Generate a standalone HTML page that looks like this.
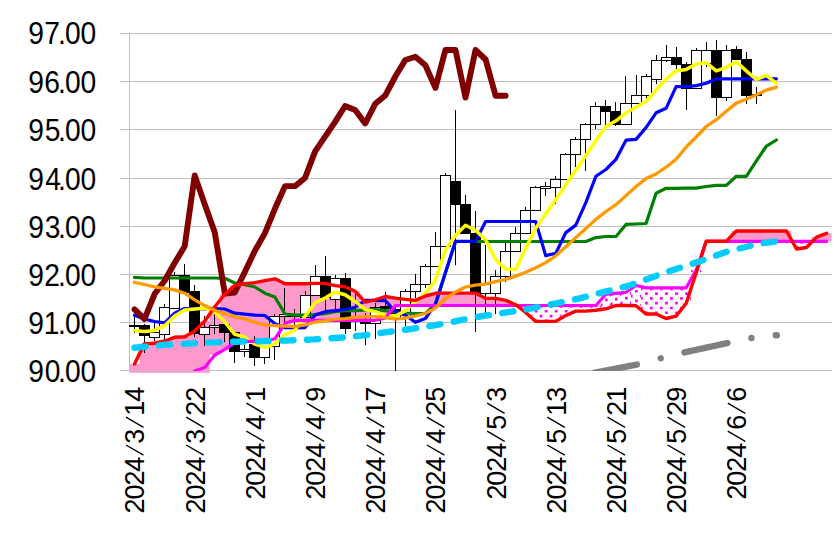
<!DOCTYPE html><html><head><meta charset="utf-8"><title>chart</title><style>html,body{margin:0;padding:0;background:#fff}svg{display:block}text{font-family:"Liberation Sans",sans-serif;fill:#000}</style></head><body>
<svg width="837" height="542" viewBox="0 0 837 542">
<defs><clipPath id="cp"><rect x="129.0" y="27.5" width="703.5" height="345.3"/></clipPath>
<clipPath id="cp2"><rect x="129.0" y="27.5" width="703.5" height="343.6"/></clipPath>
</defs>
<rect width="837" height="542" fill="#fff"/>
<line x1="120.0" y1="33.50" x2="832.0" y2="33.50" stroke="#c0c0c0" stroke-width="1"/>
<line x1="120.0" y1="81.50" x2="832.0" y2="81.50" stroke="#c0c0c0" stroke-width="1"/>
<line x1="120.0" y1="129.50" x2="832.0" y2="129.50" stroke="#c0c0c0" stroke-width="1"/>
<line x1="120.0" y1="178.50" x2="832.0" y2="178.50" stroke="#c0c0c0" stroke-width="1"/>
<line x1="120.0" y1="226.50" x2="832.0" y2="226.50" stroke="#c0c0c0" stroke-width="1"/>
<line x1="120.0" y1="274.50" x2="832.0" y2="274.50" stroke="#c0c0c0" stroke-width="1"/>
<line x1="120.0" y1="322.50" x2="832.0" y2="322.50" stroke="#c0c0c0" stroke-width="1"/>
<line x1="120.0" y1="370.50" x2="832.0" y2="370.50" stroke="#c0c0c0" stroke-width="1"/>
<line x1="129.5" y1="33.5" x2="129.5" y2="370.5" stroke="#c0c0c0" stroke-width="1"/>
<g clip-path="url(#cp)">
<polygon points="129.50,363.9 139.53,363.9 139.53,343.6 149.56,343.6 149.56,343.2 159.59,343.2 159.59,341.0 169.62,341.0 169.62,337.3 179.65,337.3 179.65,336.8 189.68,336.8 189.68,331.0 199.71,331.0 199.71,321.3 209.74,321.3 209.74,306.8 219.77,306.8 219.77,294.2 229.80,294.2 229.80,285.5 239.83,285.5 239.83,283.6 249.86,283.6 249.86,282.6 259.89,282.6 259.89,280.7 269.92,280.7 269.92,278.8 279.95,278.8 279.95,283.8 289.98,283.8 289.98,283.8 300.01,283.8 300.01,283.8 310.04,283.8 310.04,283.4 320.07,283.4 320.07,283.4 330.10,283.4 330.10,285.6 340.13,285.6 340.13,286.8 350.16,286.8 350.16,291.3 360.19,291.3 360.19,302.2 370.22,302.2 370.22,299.9 380.25,299.9 380.25,296.5 390.28,296.5 390.28,298.1 400.31,298.1 400.31,299.4 410.34,299.4 410.34,300.4 420.37,300.4 420.37,296.0 430.40,296.0 430.40,293.3 440.43,293.3 440.43,293.1 450.46,293.1 450.46,293.1 460.49,293.1 460.49,293.1 470.52,293.1 470.52,293.1 480.55,293.1 480.55,298.4 490.58,298.4 490.58,298.4 500.61,298.4 500.61,300.3 510.64,300.3 510.64,304.7 520.67,304.7 520.67,305.5 510.64,305.5 510.64,305.5 500.61,305.5 500.61,305.5 490.58,305.5 490.58,305.5 480.55,305.5 480.55,305.5 470.52,305.5 470.52,305.5 460.49,305.5 460.49,305.5 450.46,305.5 450.46,305.5 440.43,305.5 440.43,305.5 430.40,305.5 430.40,305.5 420.37,305.5 420.37,305.5 410.34,305.5 410.34,305.5 400.31,305.5 400.31,305.6 390.28,305.6 390.28,318.0 380.25,318.0 380.25,320.3 370.22,320.3 370.22,320.3 360.19,320.3 360.19,320.3 350.16,320.3 350.16,320.3 340.13,320.3 340.13,320.3 330.10,320.3 330.10,320.3 320.07,320.3 320.07,320.3 310.04,320.3 310.04,320.3 300.01,320.3 300.01,320.3 289.98,320.3 289.98,323.4 279.95,323.4 279.95,338.8 269.92,338.8 269.92,341.0 259.89,341.0 259.89,341.3 249.86,341.3 249.86,341.3 239.83,341.3 239.83,342.8 229.80,342.8 229.80,349.4 219.77,349.4 219.77,355.0 209.74,355.0 209.74,400.0 199.71,400.0 199.71,400.0 189.68,400.0 189.68,400.0 179.65,400.0 179.65,400.0 169.62,400.0 169.62,400.0 159.59,400.0 159.59,400.0 149.56,400.0 149.56,400.0 139.53,400.0 139.53,400.0 129.50,400.0" fill="#ff99cc"/>
<polygon points="731.30,231.0 741.33,231.0 741.33,231.0 751.36,231.0 751.36,231.0 761.39,231.0 761.39,231.0 771.42,231.0 771.42,231.0 781.45,231.0 781.45,231.0 791.48,231.0 791.48,241.3 781.45,241.3 781.45,241.3 771.42,241.3 771.42,241.3 761.39,241.3 761.39,241.3 751.36,241.3 751.36,241.3 741.33,241.3 741.33,241.3 731.30,241.3" fill="#ff99cc"/>
<polygon points="811.54,237.1 821.57,237.1 821.57,233.3 831.60,233.3 831.60,241.3 821.57,241.3 821.57,241.3 811.54,241.3" fill="#ff99cc"/>
<path d="M520.67,305.50h1.65v2.35h-1.65zM529.65,305.50h1.05v2.35h-1.05zM524.72,309.90h2.70v2.50h-2.70zM530.70,305.50h1.65v2.35h-1.65zM539.68,305.50h1.05v2.35h-1.05zM534.75,309.90h2.70v2.70h-2.70zM530.70,314.75h1.65v2.70h-1.65zM539.68,314.75h1.05v2.70h-1.05zM534.75,319.50h2.70v1.90h-2.70zM540.73,305.50h1.65v2.35h-1.65zM549.71,305.50h1.05v2.35h-1.05zM544.78,309.90h2.70v2.70h-2.70zM540.73,314.75h1.65v2.70h-1.65zM549.71,314.75h1.05v2.70h-1.05zM544.78,319.50h2.70v1.90h-2.70zM550.76,305.50h1.65v2.35h-1.65zM559.74,305.50h1.05v2.35h-1.05zM554.81,309.90h2.70v2.70h-2.70zM550.76,314.75h1.65v2.70h-1.65zM559.74,314.75h1.05v2.70h-1.05zM554.81,319.50h2.70v1.90h-2.70zM560.79,305.50h1.65v2.35h-1.65zM569.77,305.50h1.05v2.35h-1.05zM564.84,309.90h2.70v2.70h-2.70zM560.79,314.75h1.65v0.75h-1.65zM569.77,314.75h1.05v0.75h-1.05zM570.82,305.50h1.65v2.35h-1.65zM579.80,305.50h1.05v2.35h-1.05zM574.87,309.90h2.70v1.20h-2.70zM580.85,305.50h1.65v2.35h-1.65zM589.83,305.50h1.05v2.35h-1.05zM584.90,309.90h2.70v1.20h-2.70zM590.88,305.50h1.65v2.35h-1.65zM599.86,305.50h1.05v2.35h-1.05zM594.93,309.90h2.70v0.40h-2.70zM600.91,294.20h1.65v2.35h-1.65zM609.89,294.20h1.05v2.35h-1.05zM604.96,298.60h2.70v2.70h-2.70zM600.91,303.45h1.65v2.70h-1.65zM609.89,303.45h1.05v2.70h-1.05zM604.96,308.20h2.70v0.60h-2.70zM610.94,293.30h1.65v2.35h-1.65zM619.92,293.30h1.05v2.35h-1.05zM614.99,297.70h2.70v2.70h-2.70zM610.94,302.55h1.65v2.70h-1.65zM619.92,302.55h1.05v2.70h-1.05zM620.97,292.30h1.65v2.35h-1.65zM629.95,292.30h1.05v2.35h-1.05zM625.02,296.70h2.70v2.70h-2.70zM620.97,301.55h1.65v2.70h-1.65zM629.95,301.55h1.05v2.70h-1.05zM631.00,285.50h1.65v2.35h-1.65zM639.98,285.50h1.05v2.35h-1.05zM635.05,289.90h2.70v2.70h-2.70zM631.00,294.75h1.65v2.70h-1.65zM639.98,294.75h1.05v2.70h-1.05zM635.05,299.50h2.70v2.70h-2.70zM631.00,304.35h1.65v1.35h-1.65zM639.98,304.35h1.05v1.35h-1.05zM641.03,287.80h1.65v2.35h-1.65zM650.01,287.80h1.05v2.35h-1.05zM645.08,292.20h2.70v2.70h-2.70zM641.03,297.05h1.65v2.70h-1.65zM650.01,297.05h1.05v2.70h-1.05zM645.08,301.80h2.70v2.70h-2.70zM641.03,306.65h1.65v2.70h-1.65zM650.01,306.65h1.05v2.70h-1.05zM645.08,311.40h2.70v2.60h-2.70zM651.06,287.80h1.65v2.35h-1.65zM660.04,287.80h1.05v2.35h-1.05zM655.11,292.20h2.70v2.70h-2.70zM651.06,297.05h1.65v2.70h-1.65zM660.04,297.05h1.05v2.70h-1.05zM655.11,301.80h2.70v2.70h-2.70zM651.06,306.65h1.65v2.70h-1.65zM660.04,306.65h1.05v2.70h-1.05zM655.11,311.40h2.70v2.60h-2.70zM661.09,287.80h1.65v2.35h-1.65zM670.07,287.80h1.05v2.35h-1.05zM665.14,292.20h2.70v2.70h-2.70zM661.09,297.05h1.65v2.70h-1.65zM670.07,297.05h1.05v2.70h-1.05zM665.14,301.80h2.70v2.70h-2.70zM661.09,306.65h1.65v2.70h-1.65zM670.07,306.65h1.05v2.70h-1.05zM665.14,311.40h2.70v2.70h-2.70zM661.09,316.25h1.65v2.25h-1.65zM670.07,316.25h1.05v2.25h-1.05zM671.12,287.80h1.65v2.35h-1.65zM680.10,287.80h1.05v2.35h-1.05zM675.17,292.20h2.70v2.70h-2.70zM671.12,297.05h1.65v2.70h-1.65zM680.10,297.05h1.05v2.70h-1.05zM675.17,301.80h2.70v2.70h-2.70zM671.12,306.65h1.65v2.70h-1.65zM680.10,306.65h1.05v2.70h-1.05zM675.17,311.40h2.70v2.70h-2.70zM681.15,287.80h1.65v2.35h-1.65zM690.13,287.80h1.05v2.35h-1.05zM685.20,292.20h2.70v2.70h-2.70zM681.15,297.05h1.65v2.70h-1.65zM690.13,297.05h1.05v2.70h-1.05zM685.20,301.80h2.70v1.50h-2.70zM691.18,270.00h1.65v2.35h-1.65zM700.16,270.00h1.05v2.35h-1.05zM791.48,241.30h1.65v2.35h-1.65zM800.46,241.30h1.05v2.35h-1.05zM795.53,245.70h2.70v2.70h-2.70zM801.51,241.30h1.65v2.35h-1.65zM810.49,241.30h1.05v2.35h-1.05zM805.56,245.70h2.70v1.80h-2.70z" fill="#ff00ff"/>
</g>
<line x1="129.5" y1="370.50" x2="832.0" y2="370.50" stroke="#c0c0c0" stroke-width="1" opacity="0.8"/>
<g clip-path="url(#cp2)" stroke="#000" stroke-width="1">
<line x1="134.5" y1="315.0" x2="134.5" y2="333.0"/>
<rect x="129.5" y="325.5" width="10.0" height="1.0" fill="#fff"/>
<line x1="144.5" y1="324.0" x2="144.5" y2="353.0"/>
<rect x="139.5" y="325.5" width="10.0" height="10.0" fill="#000"/>
<line x1="154.5" y1="323.0" x2="154.5" y2="341.0"/>
<rect x="149.5" y="332.5" width="10.0" height="5.0" fill="#fff"/>
<line x1="164.5" y1="304.0" x2="164.5" y2="341.0"/>
<rect x="159.5" y="307.5" width="10.0" height="27.0" fill="#fff"/>
<line x1="174.5" y1="272.0" x2="174.5" y2="308.0"/>
<rect x="169.5" y="275.5" width="10.0" height="33.0" fill="#fff"/>
<line x1="184.5" y1="264.0" x2="184.5" y2="293.0"/>
<rect x="179.5" y="275.5" width="10.0" height="17.0" fill="#000"/>
<line x1="194.5" y1="285.0" x2="194.5" y2="337.0"/>
<rect x="189.5" y="291.5" width="10.0" height="42.0" fill="#000"/>
<line x1="204.5" y1="316.0" x2="204.5" y2="346.0"/>
<rect x="199.5" y="327.5" width="10.0" height="7.0" fill="#fff"/>
<line x1="214.5" y1="314.0" x2="214.5" y2="334.0"/>
<rect x="209.5" y="325.5" width="10.0" height="2.0" fill="#fff"/>
<line x1="224.5" y1="324.0" x2="224.5" y2="342.0"/>
<rect x="219.5" y="324.5" width="10.0" height="8.0" fill="#000"/>
<line x1="234.5" y1="333.0" x2="234.5" y2="363.0"/>
<rect x="229.5" y="332.5" width="10.0" height="19.0" fill="#000"/>
<line x1="244.5" y1="345.0" x2="244.5" y2="357.0"/>
<rect x="239.5" y="349.5" width="10.0" height="2.0" fill="#fff"/>
<line x1="254.5" y1="336.0" x2="254.5" y2="366.0"/>
<rect x="249.5" y="344.5" width="10.0" height="13.0" fill="#000"/>
<line x1="264.5" y1="347.0" x2="264.5" y2="364.0"/>
<rect x="259.5" y="347.5" width="10.0" height="10.0" fill="#fff"/>
<line x1="274.5" y1="314.0" x2="274.5" y2="360.0"/>
<rect x="269.5" y="316.5" width="10.0" height="30.0" fill="#fff"/>
<line x1="284.5" y1="288.0" x2="284.5" y2="327.0"/>
<rect x="279.5" y="314.5" width="10.0" height="2.0" fill="#fff"/>
<line x1="294.5" y1="309.0" x2="294.5" y2="325.0"/>
<rect x="289.5" y="314.5" width="11.0" height="2.0" fill="#fff"/>
<line x1="305.5" y1="291.0" x2="305.5" y2="318.0"/>
<rect x="300.5" y="295.5" width="10.0" height="22.0" fill="#fff"/>
<line x1="315.5" y1="265.0" x2="315.5" y2="296.0"/>
<rect x="310.5" y="276.5" width="10.0" height="19.0" fill="#fff"/>
<line x1="325.5" y1="256.0" x2="325.5" y2="310.0"/>
<rect x="320.5" y="276.5" width="10.0" height="21.0" fill="#000"/>
<line x1="335.5" y1="275.0" x2="335.5" y2="309.0"/>
<rect x="330.5" y="278.5" width="10.0" height="21.0" fill="#fff"/>
<line x1="345.5" y1="273.0" x2="345.5" y2="334.0"/>
<rect x="340.5" y="278.5" width="10.0" height="50.0" fill="#000"/>
<line x1="355.5" y1="292.0" x2="355.5" y2="331.0"/>
<rect x="350.5" y="320.5" width="10.0" height="1.0" fill="#fff"/>
<line x1="365.5" y1="313.0" x2="365.5" y2="345.0"/>
<rect x="360.5" y="321.5" width="10.0" height="2.0" fill="#000"/>
<line x1="375.5" y1="303.0" x2="375.5" y2="339.0"/>
<rect x="370.5" y="307.5" width="10.0" height="16.0" fill="#fff"/>
<line x1="385.5" y1="292.0" x2="385.5" y2="312.0"/>
<rect x="380.5" y="306.5" width="10.0" height="2.0" fill="#000"/>
<line x1="395.5" y1="306.0" x2="395.5" y2="373.0"/>
<rect x="390.5" y="309.5" width="10.0" height="4.0" fill="#000"/>
<line x1="405.5" y1="289.0" x2="405.5" y2="326.0"/>
<rect x="400.5" y="291.5" width="10.0" height="27.0" fill="#fff"/>
<line x1="415.5" y1="274.0" x2="415.5" y2="298.0"/>
<rect x="410.5" y="284.5" width="10.0" height="7.0" fill="#fff"/>
<line x1="425.5" y1="264.0" x2="425.5" y2="288.0"/>
<rect x="420.5" y="266.5" width="10.0" height="18.0" fill="#fff"/>
<line x1="435.5" y1="232.0" x2="435.5" y2="266.0"/>
<rect x="430.5" y="246.5" width="10.0" height="20.0" fill="#fff"/>
<line x1="445.5" y1="173.0" x2="445.5" y2="246.0"/>
<rect x="440.5" y="175.5" width="10.0" height="71.0" fill="#fff"/>
<line x1="455.5" y1="110.0" x2="455.5" y2="265.0"/>
<rect x="450.5" y="181.5" width="10.0" height="23.0" fill="#000"/>
<line x1="465.5" y1="195.0" x2="465.5" y2="233.0"/>
<rect x="460.5" y="204.5" width="10.0" height="29.0" fill="#000"/>
<line x1="475.5" y1="211.0" x2="475.5" y2="332.0"/>
<rect x="470.5" y="233.5" width="10.0" height="59.0" fill="#000"/>
<line x1="485.5" y1="245.0" x2="485.5" y2="314.0"/>
<rect x="480.5" y="284.5" width="10.0" height="9.0" fill="#fff"/>
<line x1="495.5" y1="270.0" x2="495.5" y2="314.0"/>
<rect x="490.5" y="276.5" width="10.0" height="17.0" fill="#fff"/>
<line x1="505.5" y1="242.0" x2="505.5" y2="282.0"/>
<rect x="500.5" y="251.5" width="10.0" height="25.0" fill="#fff"/>
<line x1="515.5" y1="227.0" x2="515.5" y2="252.0"/>
<rect x="510.5" y="233.5" width="10.0" height="18.0" fill="#fff"/>
<line x1="525.5" y1="207.0" x2="525.5" y2="234.0"/>
<rect x="520.5" y="210.5" width="10.0" height="23.0" fill="#fff"/>
<line x1="535.5" y1="186.0" x2="535.5" y2="210.0"/>
<rect x="530.5" y="187.5" width="10.0" height="23.0" fill="#fff"/>
<line x1="545.5" y1="182.0" x2="545.5" y2="196.0"/>
<rect x="540.5" y="186.5" width="10.0" height="2.0" fill="#fff"/>
<line x1="555.5" y1="176.0" x2="555.5" y2="204.0"/>
<rect x="550.5" y="179.5" width="10.0" height="8.0" fill="#fff"/>
<line x1="565.5" y1="153.0" x2="565.5" y2="180.0"/>
<rect x="560.5" y="154.5" width="10.0" height="25.0" fill="#fff"/>
<line x1="575.5" y1="137.0" x2="575.5" y2="167.0"/>
<rect x="570.5" y="139.5" width="10.0" height="15.0" fill="#fff"/>
<line x1="585.5" y1="123.0" x2="585.5" y2="171.0"/>
<rect x="580.5" y="124.5" width="10.0" height="15.0" fill="#fff"/>
<line x1="595.5" y1="102.0" x2="595.5" y2="129.0"/>
<rect x="590.5" y="106.5" width="10.0" height="18.0" fill="#fff"/>
<line x1="605.5" y1="100.0" x2="605.5" y2="125.0"/>
<rect x="600.5" y="106.5" width="10.0" height="5.0" fill="#000"/>
<line x1="615.5" y1="102.0" x2="615.5" y2="126.0"/>
<rect x="610.5" y="111.5" width="10.0" height="13.0" fill="#000"/>
<line x1="625.5" y1="76.0" x2="625.5" y2="124.0"/>
<rect x="620.5" y="103.5" width="11.0" height="21.0" fill="#fff"/>
<line x1="636.5" y1="75.0" x2="636.5" y2="103.0"/>
<rect x="631.5" y="95.5" width="10.0" height="8.0" fill="#fff"/>
<line x1="646.5" y1="74.0" x2="646.5" y2="99.0"/>
<rect x="641.5" y="76.5" width="10.0" height="19.0" fill="#fff"/>
<line x1="656.5" y1="55.0" x2="656.5" y2="84.0"/>
<rect x="651.5" y="60.5" width="10.0" height="19.0" fill="#fff"/>
<line x1="666.5" y1="45.0" x2="666.5" y2="62.0"/>
<rect x="661.5" y="57.5" width="10.0" height="3.0" fill="#fff"/>
<line x1="676.5" y1="47.0" x2="676.5" y2="69.0"/>
<rect x="671.5" y="57.5" width="10.0" height="7.0" fill="#000"/>
<line x1="686.5" y1="62.0" x2="686.5" y2="110.0"/>
<rect x="681.5" y="64.5" width="10.0" height="24.0" fill="#000"/>
<line x1="696.5" y1="48.0" x2="696.5" y2="89.0"/>
<rect x="691.5" y="50.5" width="10.0" height="38.0" fill="#fff"/>
<line x1="706.5" y1="42.0" x2="706.5" y2="67.0"/>
<rect x="701.5" y="50.5" width="10.0" height="13.0" fill="#fff"/>
<line x1="716.5" y1="40.0" x2="716.5" y2="116.0"/>
<rect x="711.5" y="50.5" width="10.0" height="47.0" fill="#000"/>
<line x1="726.5" y1="45.0" x2="726.5" y2="101.0"/>
<rect x="721.5" y="50.5" width="10.0" height="47.0" fill="#fff"/>
<line x1="736.5" y1="46.0" x2="736.5" y2="60.0"/>
<rect x="731.5" y="49.5" width="10.0" height="10.0" fill="#000"/>
<line x1="746.5" y1="52.0" x2="746.5" y2="104.0"/>
<rect x="741.5" y="59.5" width="10.0" height="36.0" fill="#000"/>
<line x1="756.5" y1="87.0" x2="756.5" y2="104.0"/>
<rect x="751.5" y="94.5" width="10.0" height="1.0" fill="#fff"/>
</g>
<g clip-path="url(#cp2)" fill="none" stroke-linejoin="round" stroke-linecap="round">
<polyline points="134.5,277.3 144.5,278.0 154.6,278.0 164.6,278.0 174.6,278.0 184.7,278.0 194.7,278.0 204.7,278.0 214.8,278.0 224.8,278.3 234.8,283.0 244.8,284.6 254.9,287.0 264.9,293.2 274.9,297.0 285.0,314.0 295.0,315.1 305.0,315.1 315.1,314.5 325.1,313.6 335.1,311.7 345.1,310.6 355.2,310.6 365.2,310.2 375.2,309.5 385.3,310.6 395.3,312.0 405.3,313.0 415.4,313.5 425.4,313.5 435.4,304.2 445.4,272.7 455.5,241.5 465.5,241.5 475.5,241.5 485.6,241.5 495.6,241.5 505.6,241.5 515.7,241.5 525.7,241.5 535.7,241.5 545.7,241.5 555.8,241.5 565.8,241.5 575.8,241.5 585.9,241.5 595.9,237.6 605.9,236.5 616.0,236.5 626.0,224.4 636.0,224.0 646.0,223.5 656.1,193.3 666.1,188.3 676.1,188.3 686.2,188.1 696.2,188.1 706.2,186.5 716.3,185.4 726.3,185.4 736.3,176.3 746.3,176.3 756.4,160.9 766.4,146.1 776.4,140.0" stroke="#008000" stroke-width="3.2" />
<polyline points="134.5,315.2 144.5,319.0 154.6,321.5 164.6,322.8 174.6,313.2 184.7,308.5 194.7,308.5 204.7,309.0 214.8,308.5 224.8,309.0 234.8,313.2 244.8,314.2 254.9,315.2 264.9,315.5 274.9,323.8 285.0,327.6 295.0,327.9 305.0,327.6 315.1,315.1 325.1,311.7 335.1,310.6 345.1,309.5 355.2,307.2 365.2,300.4 375.2,300.4 385.3,300.6 395.3,311.5 405.3,315.2 415.4,322.3 425.4,318.5 435.4,304.2 445.4,272.7 455.5,241.4 465.5,241.4 475.5,241.4 485.6,221.5 495.6,221.5 505.6,221.5 515.7,221.5 525.7,221.5 535.7,221.5 545.7,255.6 555.8,253.2 565.8,232.6 575.8,225.1 585.9,202.4 595.9,176.3 605.9,169.5 616.0,159.3 626.0,140.2 636.0,139.4 646.0,127.6 656.1,112.8 666.1,108.3 676.1,86.7 686.2,86.7 696.2,85.6 706.2,83.3 716.3,78.8 726.3,78.8 736.3,78.8 746.3,78.8 756.4,78.8 766.4,78.8 776.4,78.8" stroke="#0000ff" stroke-width="3.2" />
<polyline points="134.5,330.4 144.5,331.4 154.6,330.4 164.6,325.7 174.6,316.1 184.7,310.0 194.7,309.0 204.7,307.9 214.8,312.3 224.8,321.8 234.8,334.3 244.8,337.1 254.9,344.2 264.9,347.3 274.9,343.8 285.0,334.8 295.0,330.0 305.0,316.3 315.1,302.7 325.1,298.1 335.1,292.0 345.1,294.7 355.2,301.5 365.2,309.5 375.2,311.7 385.3,315.4 395.3,316.0 405.3,310.9 415.4,301.8 425.4,293.3 435.4,280.3 445.4,250.0 455.5,235.2 465.5,225.3 475.5,230.3 485.6,239.7 495.6,259.4 505.6,269.3 515.7,269.3 525.7,248.0 535.7,228.5 545.7,213.8 555.8,199.6 565.8,184.6 575.8,170.3 585.9,155.6 595.9,140.4 605.9,126.5 616.0,120.8 626.0,112.8 636.0,107.2 646.0,101.5 656.1,90.1 666.1,78.8 676.1,70.9 686.2,69.4 696.2,64.0 706.2,62.5 716.3,70.9 726.3,67.4 736.3,61.8 746.3,70.9 756.4,79.5 766.4,75.4 776.4,83.3" stroke="#ffff00" stroke-width="3.5" />
<polyline points="134.5,309.4 144.5,319.0 154.6,294.1 164.6,280.7 174.6,263.0 184.7,246.2 194.7,175.4 204.7,204.3 214.8,232.6 224.8,293.5 234.8,292.5 244.8,272.0 254.9,250.8 264.9,233.1 274.9,208.8 285.0,186.1 295.0,186.1 305.0,178.0 315.1,151.4 325.1,136.7 335.1,121.9 345.1,106.0 355.2,110.1 365.2,123.5 375.2,103.8 385.3,95.4 395.3,76.5 405.3,60.0 415.4,56.8 425.4,65.2 435.4,87.9 445.4,50.0 455.5,50.0 465.5,97.6 475.5,50.0 485.6,59.5 495.6,95.8 505.6,95.8" stroke="#800000" stroke-width="5.9" />
<polyline points="134.5,400.0 144.5,400.0 154.6,400.0 164.6,400.0 174.6,400.0 184.7,396.0 194.7,370.9 204.7,367.5 214.8,355.0 224.8,349.4 234.8,342.8 244.8,341.3 254.9,341.3 264.9,341.0 274.9,338.8 285.0,323.4 295.0,320.3 305.0,320.3 315.1,320.3 325.1,320.3 335.1,320.3 345.1,320.3 355.2,320.3 365.2,320.3 375.2,320.3 385.3,318.0 395.3,305.6 405.3,305.5 415.4,305.5 425.4,305.5 435.4,305.5 445.4,305.5 455.5,305.5 465.5,305.5 475.5,305.5 485.6,305.5 495.6,305.5 505.6,305.5 515.7,305.5 525.7,305.5 535.7,305.5 545.7,305.5 555.8,305.5 565.8,305.5 575.8,305.5 585.9,305.5 595.9,305.5 605.9,294.2 616.0,293.3 626.0,292.3 636.0,285.5 646.0,287.8 656.1,287.8 666.1,287.8 676.1,287.8 686.2,287.8 696.2,270.0 706.2,241.3 716.3,241.3 726.3,241.3 736.3,241.3 746.3,241.3 756.4,241.3 766.4,241.3 776.4,241.3 786.5,241.3 796.5,241.3 806.5,241.3 816.6,241.3 826.6,241.3" stroke="#ff00ff" stroke-width="3.2" />
<polyline points="134.5,363.9 144.5,343.6 154.6,343.2 164.6,341.0 174.6,337.3 184.7,336.8 194.7,331.0 204.7,321.3 214.8,306.8 224.8,294.2 234.8,285.5 244.8,283.6 254.9,282.6 264.9,280.7 274.9,278.8 285.0,283.8 295.0,283.8 305.0,283.8 315.1,283.4 325.1,283.4 335.1,285.6 345.1,286.8 355.2,291.3 365.2,302.2 375.2,299.9 385.3,296.5 395.3,298.1 405.3,299.4 415.4,300.4 425.4,296.0 435.4,293.3 445.4,293.1 455.5,293.1 465.5,293.1 475.5,293.1 485.6,298.4 495.6,298.4 505.6,300.3 515.7,304.7 525.7,312.4 535.7,321.4 545.7,321.4 555.8,321.4 565.8,315.5 575.8,311.1 585.9,311.1 595.9,310.3 605.9,308.8 616.0,305.5 626.0,305.5 636.0,305.7 646.0,314.0 656.1,314.0 666.1,318.5 676.1,316.2 686.2,303.3 696.2,272.7 706.2,241.3 716.3,241.3 726.3,241.3 736.3,231.0 746.3,231.0 756.4,231.0 766.4,231.0 776.4,231.0 786.5,231.0 796.5,249.0 806.5,247.5 816.6,237.1 826.6,233.3" stroke="#ff0000" stroke-width="3.4" />
<polyline points="134.5,282.3 144.5,284.5 154.6,286.9 164.6,288.4 174.6,289.9 184.7,293.2 194.7,299.9 204.7,305.6 214.8,310.4 224.8,313.8 234.8,316.7 244.8,319.0 254.9,322.4 264.9,325.1 274.9,325.7 285.0,326.2 295.0,326.5 305.0,324.9 315.1,322.0 325.1,320.8 335.1,319.2 345.1,318.6 355.2,317.4 365.2,316.7 375.2,316.7 385.3,317.5 395.3,319.2 405.3,318.0 415.4,316.0 425.4,313.5 435.4,308.0 445.4,298.8 455.5,292.0 465.5,287.0 475.5,285.1 485.6,284.0 495.6,281.7 505.6,279.5 515.7,276.1 525.7,272.2 535.7,267.7 545.7,262.6 555.8,255.8 565.8,246.7 575.8,237.6 585.9,228.5 595.9,219.4 605.9,211.5 616.0,204.7 626.0,195.6 636.0,186.5 646.0,178.6 656.1,174.0 666.1,167.2 676.1,159.3 686.2,147.0 696.2,137.0 706.2,126.5 716.3,119.7 726.3,111.3 736.3,103.1 746.3,99.2 756.4,94.7 766.4,90.1 776.4,87.2" stroke="#ff9900" stroke-width="3.3" />
<polyline points="134.5,347.7 164.6,344.8 194.7,343.3 224.8,341.9 255.0,341.3 285.0,340.6 314.0,339.4 339.0,337.8 361.7,335.6 386.7,332.2 411.6,328.8 434.3,325.4 480.0,316.5 508.0,312.2 531.4,308.4 556.6,303.3 580.8,298.1 605.0,291.7 628.3,285.9 662.3,273.6 694.6,263.0 726.9,251.7 759.2,243.6 776.9,241.3" stroke="#00ccff" stroke-width="6.4" stroke-dasharray="11.3 13.36"/>
<polyline points="593.8,373.0 636.5,364.6 660.3,358.4 684.1,352.5 727.0,343.1 750.6,338.0 775.5,335.3 776.8,335.2" stroke="#808080" stroke-width="6.4" stroke-dasharray="44 24.5 0.01 24.5"/>
</g>
<text transform="translate(0,44.4) scale(0.925,1)" font-size="30.5" x="30.57 47.95 62.73 70.16 87.02">97.00</text>
<text transform="translate(0,92.5) scale(0.925,1)" font-size="30.5" x="30.57 47.96 62.73 70.16 87.02">96.00</text>
<text transform="translate(0,140.6) scale(0.925,1)" font-size="30.5" x="30.57 48.29 62.73 70.16 87.02">95.00</text>
<text transform="translate(0,189.7) scale(0.925,1)" font-size="30.5" x="30.57 48.81 62.73 70.16 87.02">94.00</text>
<text transform="translate(0,237.9) scale(0.925,1)" font-size="30.5" x="30.57 48.35 62.73 70.16 87.02">93.00</text>
<text transform="translate(0,286.0) scale(0.925,1)" font-size="30.5" x="30.57 47.98 62.73 70.16 87.02">92.00</text>
<text transform="translate(0,334.1) scale(0.925,1)" font-size="30.5" x="30.57 47.19 62.73 70.16 87.02">91.00</text>
<text transform="translate(0,382.2) scale(0.925,1)" font-size="30.5" x="30.57 48.32 62.73 70.16 87.02">90.00</text>
<g transform="translate(144.4,513.0) rotate(-90)">
<text x="6.99" y="0" font-size="27" text-anchor="middle">2</text>
<text x="20.96" y="0" font-size="27" text-anchor="middle">0</text>
<text x="34.93" y="0" font-size="27" text-anchor="middle">2</text>
<text x="48.90" y="0" font-size="27" text-anchor="middle">4</text>
<line x1="57.8" y1="-0.9" x2="68.0" y2="-18.4" stroke="#000" stroke-width="1.35"/>
<text x="76.84" y="0" font-size="27" text-anchor="middle">3</text>
<line x1="85.7" y1="-0.9" x2="95.9" y2="-18.4" stroke="#000" stroke-width="1.35"/>
<text x="104.78" y="0" font-size="27" text-anchor="middle">1</text>
<text x="118.75" y="0" font-size="27" text-anchor="middle">4</text>
</g>
<g transform="translate(204.6,513.0) rotate(-90)">
<text x="6.99" y="0" font-size="27" text-anchor="middle">2</text>
<text x="20.96" y="0" font-size="27" text-anchor="middle">0</text>
<text x="34.93" y="0" font-size="27" text-anchor="middle">2</text>
<text x="48.90" y="0" font-size="27" text-anchor="middle">4</text>
<line x1="57.8" y1="-0.9" x2="68.0" y2="-18.4" stroke="#000" stroke-width="1.35"/>
<text x="76.84" y="0" font-size="27" text-anchor="middle">3</text>
<line x1="85.7" y1="-0.9" x2="95.9" y2="-18.4" stroke="#000" stroke-width="1.35"/>
<text x="104.78" y="0" font-size="27" text-anchor="middle">2</text>
<text x="118.75" y="0" font-size="27" text-anchor="middle">2</text>
</g>
<g transform="translate(264.8,499.1) rotate(-90)">
<text x="6.99" y="0" font-size="27" text-anchor="middle">2</text>
<text x="20.96" y="0" font-size="27" text-anchor="middle">0</text>
<text x="34.93" y="0" font-size="27" text-anchor="middle">2</text>
<text x="48.90" y="0" font-size="27" text-anchor="middle">4</text>
<line x1="57.8" y1="-0.9" x2="68.0" y2="-18.4" stroke="#000" stroke-width="1.35"/>
<text x="76.84" y="0" font-size="27" text-anchor="middle">4</text>
<line x1="85.7" y1="-0.9" x2="95.9" y2="-18.4" stroke="#000" stroke-width="1.35"/>
<text x="104.78" y="0" font-size="27" text-anchor="middle">1</text>
</g>
<g transform="translate(325.0,499.1) rotate(-90)">
<text x="6.99" y="0" font-size="27" text-anchor="middle">2</text>
<text x="20.96" y="0" font-size="27" text-anchor="middle">0</text>
<text x="34.93" y="0" font-size="27" text-anchor="middle">2</text>
<text x="48.90" y="0" font-size="27" text-anchor="middle">4</text>
<line x1="57.8" y1="-0.9" x2="68.0" y2="-18.4" stroke="#000" stroke-width="1.35"/>
<text x="76.84" y="0" font-size="27" text-anchor="middle">4</text>
<line x1="85.7" y1="-0.9" x2="95.9" y2="-18.4" stroke="#000" stroke-width="1.35"/>
<text x="104.78" y="0" font-size="27" text-anchor="middle">9</text>
</g>
<g transform="translate(385.1,513.0) rotate(-90)">
<text x="6.99" y="0" font-size="27" text-anchor="middle">2</text>
<text x="20.96" y="0" font-size="27" text-anchor="middle">0</text>
<text x="34.93" y="0" font-size="27" text-anchor="middle">2</text>
<text x="48.90" y="0" font-size="27" text-anchor="middle">4</text>
<line x1="57.8" y1="-0.9" x2="68.0" y2="-18.4" stroke="#000" stroke-width="1.35"/>
<text x="76.84" y="0" font-size="27" text-anchor="middle">4</text>
<line x1="85.7" y1="-0.9" x2="95.9" y2="-18.4" stroke="#000" stroke-width="1.35"/>
<text x="104.78" y="0" font-size="27" text-anchor="middle">1</text>
<text x="118.75" y="0" font-size="27" text-anchor="middle">7</text>
</g>
<g transform="translate(445.3,513.0) rotate(-90)">
<text x="6.99" y="0" font-size="27" text-anchor="middle">2</text>
<text x="20.96" y="0" font-size="27" text-anchor="middle">0</text>
<text x="34.93" y="0" font-size="27" text-anchor="middle">2</text>
<text x="48.90" y="0" font-size="27" text-anchor="middle">4</text>
<line x1="57.8" y1="-0.9" x2="68.0" y2="-18.4" stroke="#000" stroke-width="1.35"/>
<text x="76.84" y="0" font-size="27" text-anchor="middle">4</text>
<line x1="85.7" y1="-0.9" x2="95.9" y2="-18.4" stroke="#000" stroke-width="1.35"/>
<text x="104.78" y="0" font-size="27" text-anchor="middle">2</text>
<text x="118.75" y="0" font-size="27" text-anchor="middle">5</text>
</g>
<g transform="translate(505.5,499.1) rotate(-90)">
<text x="6.99" y="0" font-size="27" text-anchor="middle">2</text>
<text x="20.96" y="0" font-size="27" text-anchor="middle">0</text>
<text x="34.93" y="0" font-size="27" text-anchor="middle">2</text>
<text x="48.90" y="0" font-size="27" text-anchor="middle">4</text>
<line x1="57.8" y1="-0.9" x2="68.0" y2="-18.4" stroke="#000" stroke-width="1.35"/>
<text x="76.84" y="0" font-size="27" text-anchor="middle">5</text>
<line x1="85.7" y1="-0.9" x2="95.9" y2="-18.4" stroke="#000" stroke-width="1.35"/>
<text x="104.78" y="0" font-size="27" text-anchor="middle">3</text>
</g>
<g transform="translate(565.7,513.0) rotate(-90)">
<text x="6.99" y="0" font-size="27" text-anchor="middle">2</text>
<text x="20.96" y="0" font-size="27" text-anchor="middle">0</text>
<text x="34.93" y="0" font-size="27" text-anchor="middle">2</text>
<text x="48.90" y="0" font-size="27" text-anchor="middle">4</text>
<line x1="57.8" y1="-0.9" x2="68.0" y2="-18.4" stroke="#000" stroke-width="1.35"/>
<text x="76.84" y="0" font-size="27" text-anchor="middle">5</text>
<line x1="85.7" y1="-0.9" x2="95.9" y2="-18.4" stroke="#000" stroke-width="1.35"/>
<text x="104.78" y="0" font-size="27" text-anchor="middle">1</text>
<text x="118.75" y="0" font-size="27" text-anchor="middle">3</text>
</g>
<g transform="translate(625.9,513.0) rotate(-90)">
<text x="6.99" y="0" font-size="27" text-anchor="middle">2</text>
<text x="20.96" y="0" font-size="27" text-anchor="middle">0</text>
<text x="34.93" y="0" font-size="27" text-anchor="middle">2</text>
<text x="48.90" y="0" font-size="27" text-anchor="middle">4</text>
<line x1="57.8" y1="-0.9" x2="68.0" y2="-18.4" stroke="#000" stroke-width="1.35"/>
<text x="76.84" y="0" font-size="27" text-anchor="middle">5</text>
<line x1="85.7" y1="-0.9" x2="95.9" y2="-18.4" stroke="#000" stroke-width="1.35"/>
<text x="104.78" y="0" font-size="27" text-anchor="middle">2</text>
<text x="118.75" y="0" font-size="27" text-anchor="middle">1</text>
</g>
<g transform="translate(686.0,513.0) rotate(-90)">
<text x="6.99" y="0" font-size="27" text-anchor="middle">2</text>
<text x="20.96" y="0" font-size="27" text-anchor="middle">0</text>
<text x="34.93" y="0" font-size="27" text-anchor="middle">2</text>
<text x="48.90" y="0" font-size="27" text-anchor="middle">4</text>
<line x1="57.8" y1="-0.9" x2="68.0" y2="-18.4" stroke="#000" stroke-width="1.35"/>
<text x="76.84" y="0" font-size="27" text-anchor="middle">5</text>
<line x1="85.7" y1="-0.9" x2="95.9" y2="-18.4" stroke="#000" stroke-width="1.35"/>
<text x="104.78" y="0" font-size="27" text-anchor="middle">2</text>
<text x="118.75" y="0" font-size="27" text-anchor="middle">9</text>
</g>
<g transform="translate(746.2,499.1) rotate(-90)">
<text x="6.99" y="0" font-size="27" text-anchor="middle">2</text>
<text x="20.96" y="0" font-size="27" text-anchor="middle">0</text>
<text x="34.93" y="0" font-size="27" text-anchor="middle">2</text>
<text x="48.90" y="0" font-size="27" text-anchor="middle">4</text>
<line x1="57.8" y1="-0.9" x2="68.0" y2="-18.4" stroke="#000" stroke-width="1.35"/>
<text x="76.84" y="0" font-size="27" text-anchor="middle">6</text>
<line x1="85.7" y1="-0.9" x2="95.9" y2="-18.4" stroke="#000" stroke-width="1.35"/>
<text x="104.78" y="0" font-size="27" text-anchor="middle">6</text>
</g>
</svg></body></html>
